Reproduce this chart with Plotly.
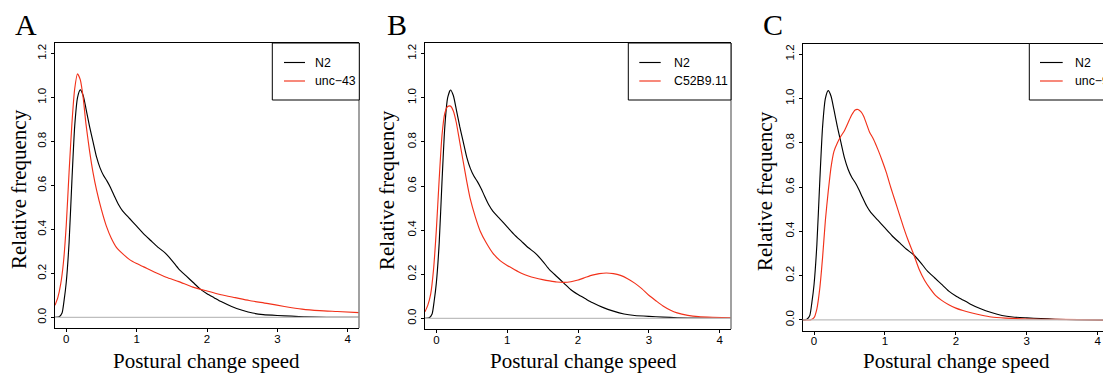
import plotly.graph_objects as go

# ---------------- data ----------------
n2_x = [-0.16, -0.10, -0.06, -0.03, 0.00, 0.04, 0.08, 0.12, 0.16, 0.20, 0.24, 0.28, 0.33, 0.38,
        0.43, 0.48, 0.53, 0.58, 0.63, 0.68, 0.74, 0.80, 0.90, 1.00, 1.10, 1.20, 1.30, 1.40,
        1.50, 1.60, 1.70, 1.80, 1.90, 2.00, 2.10, 2.20, 2.35, 2.50, 2.65, 2.80, 3.00, 3.20,
        3.40, 3.70, 4.16]
n2_y = [0.0, 0.003, 0.02, 0.08, 0.16, 0.34, 0.62, 0.87, 1.00, 1.035, 1.01, 0.95, 0.87, 0.80,
        0.73, 0.68, 0.645, 0.62, 0.59, 0.555, 0.515, 0.485, 0.45, 0.415, 0.38, 0.35, 0.32, 0.295,
        0.26, 0.22, 0.19, 0.16, 0.13, 0.108, 0.09, 0.072, 0.05, 0.033, 0.02, 0.013, 0.009, 0.006,
        0.003, 0.001, 0.0]

unc43_x = [-0.16, -0.12, -0.08, -0.04, 0.00, 0.04, 0.08, 0.12, 0.16, 0.20, 0.24, 0.28, 0.33,
           0.38, 0.43, 0.50, 0.57, 0.64, 0.71, 0.80, 0.90, 1.00, 1.10, 1.25, 1.42, 1.60, 1.80,
           2.00, 2.20, 2.40, 2.60, 2.85, 3.10, 3.35, 3.60, 3.85, 4.16]
unc43_y = [0.055, 0.09, 0.15, 0.25, 0.42, 0.66, 0.88, 1.04, 1.108, 1.08, 1.00, 0.88, 0.76,
           0.66, 0.58, 0.49, 0.415, 0.36, 0.32, 0.29, 0.263, 0.245, 0.23, 0.207, 0.183, 0.163, 0.138,
           0.12, 0.103, 0.09, 0.077, 0.064, 0.05, 0.038, 0.031, 0.027, 0.022]

c52_x = [-0.16, -0.12, -0.08, -0.04, 0.00, 0.04, 0.08, 0.12, 0.16, 0.20, 0.24, 0.28, 0.33, 0.38,
         0.43, 0.48, 0.55, 0.62, 0.70, 0.80, 0.90, 1.00, 1.10, 1.20, 1.30, 1.40, 1.50, 1.60,
         1.70, 1.80, 1.90, 2.00, 2.10, 2.20, 2.30, 2.40, 2.50, 2.60, 2.70, 2.80, 2.90, 3.00,
         3.10, 3.20, 3.30, 3.40, 3.55, 3.70, 3.90, 4.16]
c52_y = [0.03, 0.06, 0.11, 0.22, 0.40, 0.63, 0.83, 0.93, 0.96, 0.962, 0.94, 0.89, 0.80, 0.71,
         0.62, 0.54, 0.46, 0.395, 0.345, 0.295, 0.262, 0.24, 0.222, 0.205, 0.192, 0.183, 0.176, 0.17,
         0.165, 0.163, 0.166, 0.174, 0.185, 0.196, 0.203, 0.206, 0.203, 0.195, 0.18, 0.16, 0.135, 0.105,
         0.08, 0.056, 0.038, 0.025, 0.014, 0.008, 0.005, 0.003]

unc9_x = [-0.16, -0.05, 0.00, 0.04, 0.08, 0.12, 0.16, 0.20, 0.24, 0.28, 0.33, 0.38, 0.43, 0.48,
          0.53, 0.58, 0.62, 0.66, 0.70, 0.74, 0.78, 0.84, 0.90, 0.96, 1.02, 1.08, 1.14, 1.20,
          1.26, 1.32, 1.40, 1.48, 1.56, 1.64, 1.72, 1.80, 1.90, 2.00, 2.10, 2.20, 2.35, 2.50,
          2.70, 3.00, 3.40, 4.16]
unc9_y = [0.0, 0.0, 0.01, 0.05, 0.14, 0.28, 0.45, 0.58, 0.69, 0.76, 0.80, 0.83, 0.855, 0.89,
          0.925, 0.948, 0.95, 0.94, 0.92, 0.885, 0.85, 0.815, 0.77, 0.72, 0.665, 0.60, 0.54, 0.48,
          0.42, 0.365, 0.30, 0.23, 0.178, 0.14, 0.108, 0.088, 0.068, 0.053, 0.042, 0.033, 0.022, 0.013,
          0.008, 0.004, 0.002, 0.0]

panels = ["A", "B", "C"]
mutant_names = ["unc\u221243", "C52B9.11", "unc\u22129"]
mutant_x = [unc43_x, c52_x, unc9_x]
mutant_y = [unc43_y, c52_y, unc9_y]
x_ticks = [0, 1, 2, 3, 4]
y_ticks = [0.0, 0.2, 0.4, 0.6, 0.8, 1.0, 1.2]
y_ticktext = ["0.0", "0.2", "0.4", "0.6", "0.8", "1.0", "1.2"]
x_title = "Postural change speed"
y_title = "Relative frequency"

# ---------------- layout geometry (pixels) ----------------
W, H = 1103, 374
# left, right, top, bottom of each plot box in pixels
boxes = [(55, 359, 43, 328), (425, 731, 43, 329), (802.7, 1103, 43.5, 330.5)]
x_ranges = [[-0.16, 4.16], [-0.16, 4.16], [-0.16, 4.075]]
y_range = [-0.048, 1.248]
letter_x = [26, 396.7, 773]
xtitle_cx = [206, 583, 956]
ytitle_cx = [18.5, 387, 765]
legend_boxes = [(272.3, 359.3), (628.3, 731), (1029.3, 1115)]
legend_line = [(284, 305), (639.3, 660.7), (1040, 1062.7)]
legend_text_x = [313.3, 671.7, 1073.3]

RED = "#f2311a"
SANS = "Liberation Sans, Arial, sans-serif"
SERIF = "Liberation Serif, Times New Roman, serif"


def px(x):
    return x / W


def py(y):
    return 1 - y / H


fig = go.Figure()
layout = dict(width=W, height=H, margin=dict(l=0, r=0, t=0, b=0, autoexpand=False),
              paper_bgcolor="white", plot_bgcolor="white", showlegend=False)
shapes = []
annotations = []

for i in range(3):
    sfx = "" if i == 0 else str(i + 1)
    xa, ya = "x" + sfx, "y" + sfx
    l, r, t, b = boxes[i]
    fig.add_trace(go.Scatter(x=n2_x, y=n2_y, mode="lines", name="N2", xaxis=xa, yaxis=ya,
                             line=dict(color="black", width=1.15, shape="spline", smoothing=0.6)))
    fig.add_trace(go.Scatter(x=mutant_x[i], y=mutant_y[i], mode="lines", name=mutant_names[i],
                             xaxis=xa, yaxis=ya,
                             line=dict(color=RED, width=1.15, shape="spline", smoothing=0.6)))
    layout["xaxis" + sfx] = dict(domain=[px(l), px(r)], range=x_ranges[i], anchor=ya,
                                 tickvals=x_ticks, ticks="outside", ticklen=3, tickwidth=1,
                                 tickcolor="black", showline=True, linecolor="black", linewidth=1,
                                 mirror=True, showgrid=False, zeroline=False,
                                 ticklabelstandoff=-3,
                                 tickfont=dict(family=SANS, size=11.5, color="black"))
    layout["yaxis" + sfx] = dict(domain=[py(b), py(t)], range=y_range, anchor=xa,
                                 tickvals=y_ticks, ticktext=y_ticktext, tickangle=-90,
                                 ticks="outside", ticklen=3, tickwidth=1, tickcolor="black",
                                 showline=True, linecolor="black", linewidth=1, mirror=False,
                                 showgrid=False, zeroline=False,
                                 tickfont=dict(family=SANS, size=11.5, color="black"))
    # horizontal reference line at 0
    shapes.append(dict(type="line", xref=xa + " domain", yref=ya, x0=0, x1=1, y0=0, y1=0,
                       line=dict(color="#bebebe", width=1.2), layer="above"))
    # right edge of the box (grey in the reference)
    if i < 2:
        shapes.append(dict(type="line", xref=xa + " domain", yref=ya + " domain", x0=1, x1=1,
                           y0=0, y1=1, line=dict(color="#8a8a8a", width=1.6), layer="above"))
    # legend box
    lx0, lx1 = legend_boxes[i]
    shapes.append(dict(type="rect", xref="paper", yref="paper", x0=px(lx0), x1=px(lx1),
                       y0=py(100), y1=py(t), line=dict(color="black", width=1),
                       fillcolor="white", layer="above"))
    for j, (col, name, yy) in enumerate([("black", "N2", 62.5), (RED, mutant_names[i], 81)]):
        shapes.append(dict(type="line", xref="paper", yref="paper", x0=px(legend_line[i][0]),
                           x1=px(legend_line[i][1]), y0=py(yy), y1=py(yy),
                           line=dict(color=col, width=1.15), layer="above"))
        annotations.append(dict(text=name, xref="paper", yref="paper", x=px(legend_text_x[i]),
                                y=py(yy), xanchor="left", yanchor="middle", showarrow=False,
                                font=dict(family=SANS, size=12.3, color="black")))
    # panel letter
    annotations.append(dict(text=panels[i], xref="paper", yref="paper", x=px(letter_x[i]),
                            y=py(24), xanchor="center", yanchor="middle", showarrow=False,
                            font=dict(family=SERIF, size=30, color="black")))
    # axis titles
    annotations.append(dict(text=x_title, xref="paper", yref="paper", x=px(xtitle_cx[i]),
                            y=py(361), xanchor="center", yanchor="middle", showarrow=False,
                            font=dict(family=SERIF, size=21, color="black")))
    annotations.append(dict(text=y_title, xref="paper", yref="paper", x=px(ytitle_cx[i]),
                            y=py((t + b) / 2 + 4), xanchor="center", yanchor="middle",
                            textangle=-90, showarrow=False,
                            font=dict(family=SERIF, size=21, color="black")))

layout["shapes"] = shapes
layout["annotations"] = annotations
fig.update_layout(**layout)
fig.write_html("out.html")
